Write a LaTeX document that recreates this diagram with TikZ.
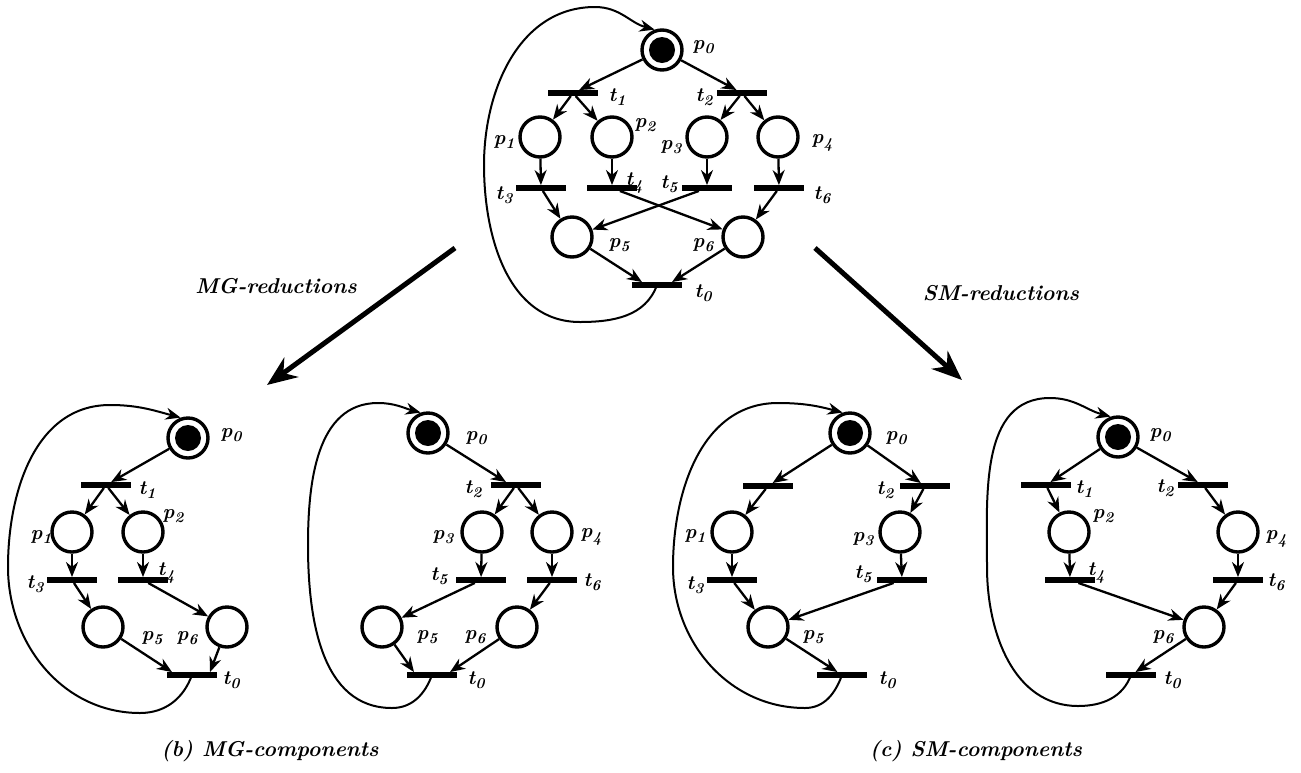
\documentclass[tikz,border=0pt]{standalone}
\usetikzlibrary{arrows.meta,calc}
\newcommand\pnl[2]{#1\kern0.3pt\raisebox{-4.5pt}{\fontsize{15}{15}\selectfont #2}}
\begin{document}
\begin{tikzpicture}[x=1pt,y=1pt,
 place/.style={circle,draw,line width=3.4pt,minimum size=40pt,inner sep=0pt},
 bar/.style={rectangle,fill,minimum width=50pt,minimum height=5.5pt,inner sep=0pt},
 arc/.style={line width=2.3pt,-{Stealth[length=15pt,width=12pt]}},
 loopline/.style={line width=2pt,-{Stealth[length=15pt,width=12pt]}},
 lab/.style={font=\fontsize{20}{20}\selectfont\bfseries\itshape,inner sep=0pt},
 captxt/.style={font=\fontsize{21.5}{24}\selectfont\bfseries\itshape,inner sep=0pt},
 big/.style={line width=5pt,-{Stealth[length=30pt,width=24pt]}}]
\useasboundingbox (0,0) rectangle (1301,-772);

% ================= top net =================
\node[place] (Tp0) at (662,-50) {};
\fill (Tp0) circle (13pt);
\node[bar] (Tt1) at (573,-93) {};
\node[bar] (Tt2) at (742,-93) {};
\node[place] (Tp1) at (540,-137) {};
\node[place] (Tp2) at (612,-137) {};
\node[place] (Tp3) at (707,-137) {};
\node[place] (Tp4) at (778,-137) {};
\node[bar] (Tt3) at (541,-188) {};
\node[bar] (Tt4) at (612,-188) {};
\node[bar] (Tt5) at (707,-188) {};
\node[bar] (Tt6) at (779,-188) {};
\node[place] (Tp5) at (572,-237) {};
\node[place] (Tp6) at (743,-237) {};
\node[bar] (Tt0) at (657,-285) {};
\node[lab] (TLp0) at (703,-47) {\pnl{p}{0}};
\node[lab] (TLt1) at (617,-97) {\pnl{t}{1}};
\node[lab] (TLt2) at (704,-97) {\pnl{t}{2}};
\node[lab] (TLp1) at (504,-142) {\pnl{p}{1}};
\node[lab] (TLp2) at (645,-125) {\pnl{p}{2}};
\node[lab] (TLp3) at (671,-147) {\pnl{p}{3}};
\node[lab] (TLp4) at (822,-143) {\pnl{p}{4}};
\node[lab] (TLt3) at (504,-195) {\pnl{t}{3}};
\node[lab] (TLt4) at (634,-183) {\pnl{t}{4}};
\node[lab] (TLt5) at (669,-184) {\pnl{t}{5}};
\node[lab] (TLt6) at (822,-195) {\pnl{t}{6}};
\node[lab] (TLp5) at (619,-245) {\pnl{p}{5}};
\node[lab] (TLp6) at (703,-245) {\pnl{p}{6}};
\node[lab] (TLt0) at (703,-293) {\pnl{t}{0}};
\draw[arc] (Tp0) -- (Tt1);
\draw[arc] (Tp0) -- (Tt2);
\draw[arc] (Tt1) -- (Tp1);
\draw[arc] (Tt1) -- (Tp2);
\draw[arc] (Tt2) -- (Tp3);
\draw[arc] (Tt2) -- (Tp4);
\draw[arc] (Tp1) -- (Tt3);
\draw[arc] (Tp2) -- (Tt4);
\draw[arc] (Tp3) -- (Tt5);
\draw[arc] (Tp4) -- (Tt6);
\draw[arc] (Tt3) -- (Tp5);
\draw[arc] (Tt4) -- (Tp6);
\draw[arc] (Tt5) -- (Tp5);
\draw[arc] (Tt6) -- (Tp6);
\draw[arc] (Tp5) -- ($(Tt0.north)+(-15,0)$);
\draw[arc] (Tp6) -- ($(Tt0.north)+(15,0)$);
\draw[loopline] (Tt0.center) to[out=-110,in=0] (580,-322) to[out=180,in=-90] (484,-165)
  to[out=90,in=180] (595,-7) to[out=0,in=165] (Tp0.110);

% ================= bottom net A =================
\node[place] (Ap0) at (188,-438) {};
\fill (Ap0) circle (13pt);
\node[bar] (At1) at (106,-485) {};
\node[place] (Ap1) at (72,-532) {};
\node[place] (Ap2) at (143,-532) {};
\node[bar] (At3) at (72,-580) {};
\node[bar] (At4) at (143,-580) {};
\node[place] (Ap5) at (103,-627) {};
\node[place] (Ap6) at (227,-627) {};
\node[bar] (At0) at (192,-675) {};
\node[lab] (ALp0) at (231,-435) {\pnl{p}{0}};
\node[lab] (ALt1) at (147,-490) {\pnl{t}{1}};
\node[lab] (ALp1) at (41,-537) {\pnl{p}{1}};
\node[lab] (ALp2) at (173,-516) {\pnl{p}{2}};
\node[lab] (ALt3) at (35,-584) {\pnl{t}{3}};
\node[lab] (ALt4) at (166,-573) {\pnl{t}{4}};
\node[lab] (ALp5) at (152,-638) {\pnl{p}{5}};
\node[lab] (ALp6) at (187,-638) {\pnl{p}{6}};
\node[lab] (ALt0) at (231,-680) {\pnl{t}{0}};
\draw[arc] (Ap0) -- (At1);
\draw[arc] (At1) -- (Ap1);
\draw[arc] (At1) -- (Ap2);
\draw[arc] (Ap1) -- (At3);
\draw[arc] (Ap2) -- (At4);
\draw[arc] (At3) -- (Ap5);
\draw[arc] (At4) -- (Ap6);
\draw[arc] (Ap5) -- ($(At0.north)+(-20,0)$);
\draw[arc] (Ap6) -- ($(At0.north)+(18,0)$);
\draw[loopline] (At0.center) to[out=-110,in=0] (140,-713) to[out=180,in=-90] (8,-567)
  to[out=90,in=180] (110,-405) to[out=0,in=165] (Ap0.110);

% ================= bottom net B =================
\node[place] (Bp0) at (428,-433) {};
\fill (Bp0) circle (13pt);
\node[bar] (Bt2) at (516,-485) {};
\node[place] (Bp3) at (482,-532) {};
\node[place] (Bp4) at (552,-532) {};
\node[bar] (Bt5) at (481,-580) {};
\node[bar] (Bt6) at (552,-580) {};
\node[place] (Bp5) at (382,-627) {};
\node[place] (Bp6) at (517,-627) {};
\node[bar] (Bt0) at (432,-675) {};
\node[lab] (BLp0) at (476,-438) {\pnl{p}{0}};
\node[lab] (BLt2) at (473,-489) {\pnl{t}{2}};
\node[lab] (BLp3) at (443,-537) {\pnl{p}{3}};
\node[lab] (BLp4) at (591,-537) {\pnl{p}{4}};
\node[lab] (BLt5) at (439,-576) {\pnl{t}{5}};
\node[lab] (BLt6) at (592,-582) {\pnl{t}{6}};
\node[lab] (BLp5) at (427,-637) {\pnl{p}{5}};
\node[lab] (BLp6) at (475,-637) {\pnl{p}{6}};
\node[lab] (BLt0) at (476,-680) {\pnl{t}{0}};
\draw[arc] (Bp0) -- ($(Bt2.north)+(-10,0)$);
\draw[arc] (Bt2) -- (Bp3);
\draw[arc] (Bt2) -- (Bp4);
\draw[arc] (Bp3) -- (Bt5);
\draw[arc] (Bp4) -- (Bt6);
\draw[arc] (Bt5) -- (Bp5);
\draw[arc] (Bt6) -- (Bp6);
\draw[arc] (Bp5) -- ($(Bt0.north)+(-18,0)$);
\draw[arc] (Bp6) -- ($(Bt0.north)+(18,0)$);
\draw[loopline] (Bt0.center) to[out=-110,in=0] (392,-708) to[out=180,in=-90] (308,-545)
  to[out=90,in=180] (378,-403) to[out=0,in=165] (Bp0.110);

% ================= bottom net C =================
\node[place] (Cp0) at (850,-433) {};
\fill (Cp0) circle (13pt);
\node[bar] (Ct1) at (768,-486) {};
\node[bar] (Ct2) at (925,-486) {};
\node[place] (Cp1) at (732,-532) {};
\node[place] (Cp3) at (900,-532) {};
\node[bar] (Ct3) at (732,-580) {};
\node[bar] (Ct5) at (902,-580) {};
\node[place] (Cp5) at (768,-627) {};
\node[bar] (Ct0) at (842,-675) {};
\node[lab] (CLp0) at (896,-438) {\pnl{p}{0}};
\node[lab] (CLt2) at (885,-490) {\pnl{t}{2}};
\node[lab] (CLp1) at (695,-536) {\pnl{p}{1}};
\node[lab] (CLp3) at (863,-539) {\pnl{p}{3}};
\node[lab] (CLt3) at (695,-585) {\pnl{t}{3}};
\node[lab] (CLt5) at (863,-574) {\pnl{t}{5}};
\node[lab] (CLp5) at (813,-637) {\pnl{p}{5}};
\node[lab] (CLt0) at (887,-680) {\pnl{t}{0}};
\draw[arc] (Cp0) -- (Ct1);
\draw[arc] (Ct1) -- (Cp1);
\draw[arc] (Cp0) -- (Ct2);
\draw[arc] (Ct2) -- (Cp3);
\draw[arc] (Cp1) -- (Ct3);
\draw[arc] (Cp3) -- (Ct5);
\draw[arc] (Ct3) -- (Cp5);
\draw[arc] (Ct5) -- (Cp5);
\draw[arc] (Cp5) -- (Ct0);
\draw[loopline] (Ct0.center) to[out=-110,in=0] (805,-708) to[out=180,in=-90] (673,-567)
  to[out=90,in=180] (778,-403) to[out=0,in=165] (Cp0.110);

% ================= bottom net D =================
\node[place] (Dp0) at (1118,-437) {};
\fill (Dp0) circle (13pt);
\node[bar] (Dt1) at (1046,-485) {};
\node[bar] (Dt2) at (1203,-485) {};
\node[place] (Dp2) at (1069,-532) {};
\node[place] (Dp4) at (1238,-532) {};
\node[bar] (Dt4) at (1070,-580) {};
\node[bar] (Dt6) at (1238,-580) {};
\node[place] (Dp6) at (1204,-627) {};
\node[bar] (Dt0) at (1131,-675) {};
\node[lab] (DLp0) at (1160,-435) {\pnl{p}{0}};
\node[lab] (DLt1) at (1084,-489) {\pnl{t}{1}};
\node[lab] (DLt2) at (1165,-488) {\pnl{t}{2}};
\node[lab] (DLp2) at (1103,-516) {\pnl{p}{2}};
\node[lab] (DLp4) at (1276,-539) {\pnl{p}{4}};
\node[lab] (DLt4) at (1096,-573) {\pnl{t}{4}};
\node[lab] (DLt6) at (1276,-582) {\pnl{t}{6}};
\node[lab] (DLp6) at (1163,-637) {\pnl{p}{6}};
\node[lab] (DLt0) at (1172,-680) {\pnl{t}{0}};
\draw[arc] (Dp0) -- (Dt1);
\draw[arc] (Dt1) -- (Dp2);
\draw[arc] (Dp0) -- (Dt2);
\draw[arc] (Dt2) -- (Dp4);
\draw[arc] (Dp2) -- (Dt4);
\draw[arc] (Dp4) -- (Dt6);
\draw[arc] (Dt4) -- (Dp6);
\draw[arc] (Dt6) -- (Dp6);
\draw[arc] (Dp6) -- (Dt0);
\draw[loopline] (Dt0.center) to[out=-110,in=0] (1078,-706) to[out=180,in=-90] (987,-567)
  to[out=90,in=180] (1050,-398) to[out=0,in=165] (Dp0.110);

% ================= reductions and captions =================
\coordinate (mgs) at (455,-248);
\coordinate (mge) at (267,-385);
\coordinate (sms) at (815,-248);
\coordinate (sme) at (962,-380);
\draw[big] (mgs) -- (mge);
\draw[big] (sms) -- (sme);
\node[captxt] (mglab) at (276,-286) {MG-reductions};
\node[captxt] (smlab) at (1001,-293) {SM-reductions};
\node[captxt] (capb) at (270,-751) {(b) MG-components};
\node[captxt] (capc) at (976,-751) {(c) SM-components};
\end{tikzpicture}
\end{document}
